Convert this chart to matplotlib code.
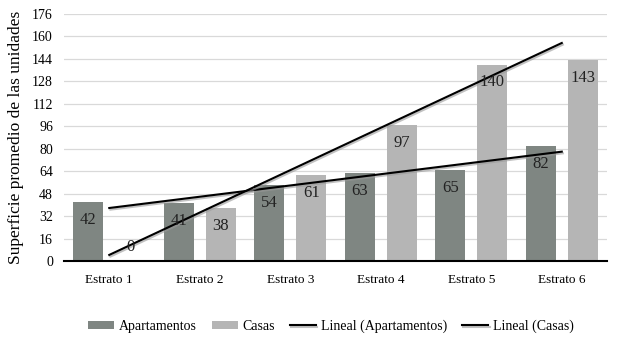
import numpy as np
import matplotlib.pyplot as plt
import matplotlib.patheffects as pe

# data
estratos = ['Estrato 1', 'Estrato 2', 'Estrato 3', 'Estrato 4', 'Estrato 5', 'Estrato 6']
apartamentos = [42, 41, 54, 63, 65, 82]
casas = [0, 38, 61, 97, 140, 143]
yticks = np.arange(0, 177, 16)

plt.rcParams['font.family'] = ['Liberation Serif', 'DejaVu Serif']

col_apt = '#7f8682'
col_casa = '#b5b5b5'

fig = plt.figure(figsize=(6.24, 3.41), dpi=100)
ax = fig.add_axes([0.1026, 0.2346, 0.8702, 0.7244])

x = np.arange(1, len(estratos) + 1)
off = 0.233
w = 0.33
b1 = ax.bar(x - off, apartamentos, w, color=col_apt, label='Apartamentos', zorder=2)
b2 = ax.bar(x + off, casas, w, color=col_casa, label='Casas', zorder=2)

# data labels (inside end)
for xs, vals in [(x - off, apartamentos), (x + off, casas)]:
    for xi, v in zip(xs, vals):
        yy = v - 12.8 if v > 20 else v + 10
        ax.text(xi, yy, str(v), ha='center', va='center', fontsize=12, color='#222222', zorder=4)

# linear trendlines
shadow = [pe.SimpleLineShadow(offset=(0.8, -1.2), shadow_color='#999999', alpha=0.6), pe.Normal()]
p_apt = np.poly1d(np.polyfit(x, apartamentos, 1))
p_casa = np.poly1d(np.polyfit(x, casas, 1))
l1, = ax.plot(x, p_apt(x), color='black', lw=1.5, label='Lineal (Apartamentos)', zorder=3, path_effects=shadow)
l2, = ax.plot(x, p_casa(x), color='black', lw=1.5, label='Lineal (Casas)', zorder=3, path_effects=shadow)

ax.set_xlim(0.5, 6.5)
ax.set_ylim(0, 176)
ax.set_yticks(yticks)
ax.set_xticks(x)
ax.set_xticklabels(estratos, fontsize=9.5)
ax.tick_params(axis='y', length=0, pad=8, labelsize=10)
ax.tick_params(axis='x', length=0, pad=9)
ax.yaxis.grid(True, color='#d9d9d9', lw=0.9, zorder=0)
ax.set_axisbelow(True)
for s in ['left', 'right', 'top']:
    ax.spines[s].set_visible(False)
ax.spines['bottom'].set_color('black')
ax.spines['bottom'].set_linewidth(1.5)
ax.spines['bottom'].set_zorder(5)

ax.set_ylabel('Superficie promedio de las unidades', fontsize=12.5, labelpad=6)

handles = [b1, b2, l1, l2]
fig.legend(handles, [hd.get_label() for hd in handles], loc='center', bbox_to_anchor=(0.53, 0.044),
           ncol=4, frameon=False, prop={'family': 'Liberation Serif', 'size': 10},
           handlelength=1.9, handleheight=0.5, handletextpad=0.3, columnspacing=1.1)

fig.savefig('out.png', dpi=100)
